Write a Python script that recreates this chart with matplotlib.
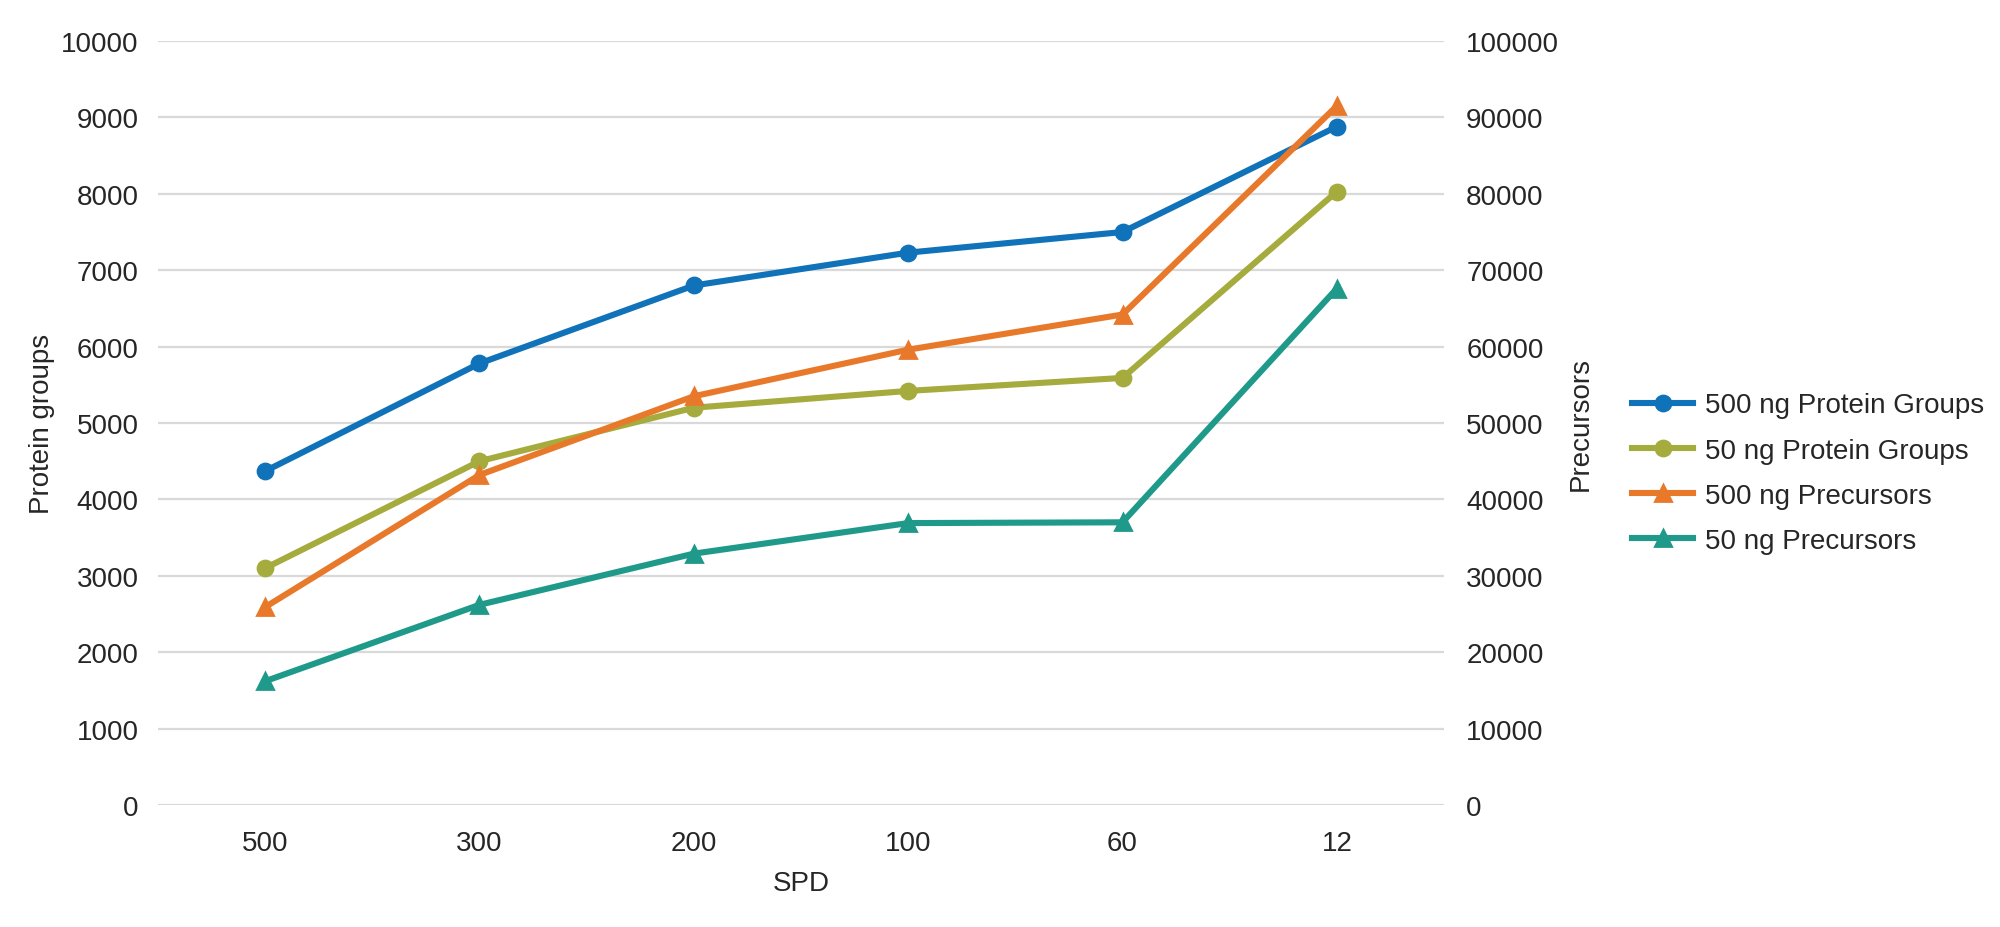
import matplotlib

matplotlib.use("Agg")
import matplotlib.pyplot as plt

plt.rcParams.update({
    "font.family": ["Liberation Sans", "DejaVu Sans"],
    "text.color": "#262626",
    "axes.labelcolor": "#262626",
    "xtick.color": "#262626",
    "ytick.color": "#262626",
})

# --- data -------------------------------------------------------------------
spd = ["500", "300", "200", "100", "60", "12"]
pg_500 = [4370, 5780, 6800, 7230, 7500, 8880]
pg_50 = [3100, 4500, 5200, 5420, 5590, 8030]
prec_500 = [25900, 43200, 53500, 59600, 64200, 91500]
prec_50 = [16200, 26200, 32900, 36900, 37000, 67600]

BLUE = "#1072b8"
OLIVE = "#a5ab3d"
ORANGE = "#e8792b"
TEAL = "#1f9a8a"
GRID = "#d9d9d9"
FS = 10

fig = plt.figure(figsize=(10, 4.64), dpi=200)
ax = fig.add_axes([0.079, 0.1315, 0.643, 0.8232])
ax2 = ax.twinx()

x = list(range(len(spd)))
lw = 2.2
l1, = ax.plot(x, pg_500, color=BLUE, lw=lw, marker="o", ms=5.4, label="500 ng Protein Groups", zorder=3)
l2, = ax.plot(x, pg_50, color=OLIVE, lw=lw, marker="o", ms=5.4, label="50 ng Protein Groups", zorder=3)
l3, = ax2.plot(x, prec_500, color=ORANGE, lw=lw, marker="^", ms=5.8, label="500 ng Precursors", zorder=3)
l4, = ax2.plot(x, prec_50, color=TEAL, lw=lw, marker="^", ms=5.8, label="50 ng Precursors", zorder=3)

ax.set_xlim(-0.5, len(spd) - 0.5)
ax.set_ylim(0, 10000)
ax2.set_ylim(0, 100000)
ax.set_yticks(range(0, 10001, 1000))
ax2.set_yticks(range(0, 100001, 10000))
ax.set_xticks(x, spd)

ax.grid(axis="y", color=GRID, linewidth=0.8, zorder=0)
ax.set_axisbelow(True)
for a in (ax, ax2):
    for s in a.spines.values():
        s.set_visible(False)
    a.tick_params(length=0, labelsize=FS)
ax.tick_params(axis="y", pad=7)
ax.tick_params(axis="x", pad=9)
ax2.tick_params(axis="y", pad=8)

ax.set_xlabel("SPD", fontsize=FS, labelpad=5)
ax.set_ylabel("Protein groups", fontsize=FS, labelpad=2)
ax2.set_ylabel("Precursors", fontsize=FS, labelpad=3)

fig.legend(
    handles=[l1, l2, l3, l4], loc="center left", bbox_to_anchor=(0.816, 0.489),
    frameon=False, fontsize=FS, handlelength=2.2, labelspacing=0.69,
    handletextpad=0.42, borderpad=0, borderaxespad=0,
)

fig.savefig("out.png")
